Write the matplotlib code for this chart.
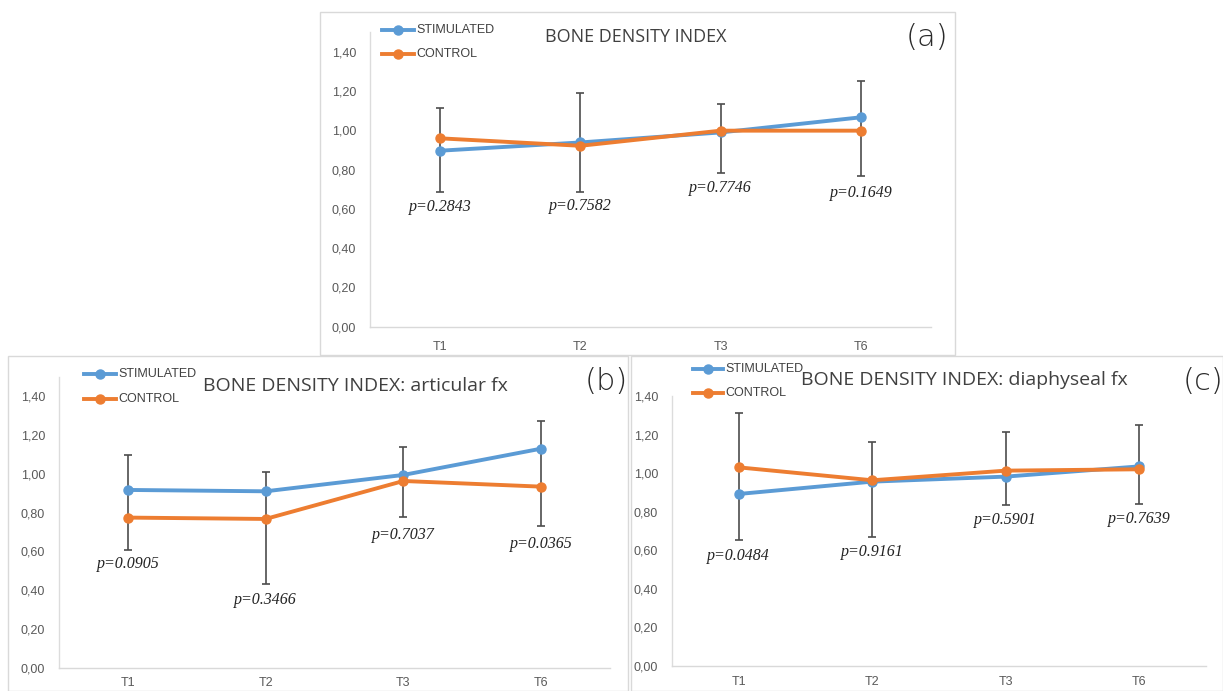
import matplotlib
matplotlib.use("Agg")
import matplotlib.pyplot as plt
from matplotlib.patches import Rectangle
from matplotlib import font_manager

# ---------------- data ----------------
times = ["T1", "T2", "T3", "T6"]
y_ticks = [0.0, 0.2, 0.4, 0.6, 0.8, 1.0, 1.2, 1.4]

a_stim = [0.896, 0.938, 0.989, 1.066]
a_ctrl = [0.959, 0.921, 0.998, 0.998]
a_err_lo = [0.684, 0.684, 0.782, 0.767]
a_err_hi = [1.115, 1.188, 1.132, 1.251]
a_p = ["p=0.2843", "p=0.7582", "p=0.7746", "p=0.1649"]
a_p_y = [0.611, 0.614, 0.704, 0.679]

b_stim = [0.916, 0.909, 0.993, 1.128]
b_ctrl = [0.774, 0.767, 0.962, 0.933]
b_err_lo = [0.608, 0.431, 0.777, 0.731]
b_err_hi = [1.095, 1.008, 1.135, 1.272]
b_p = ["p=0.0905", "p=0.3466", "p=0.7037", "p=0.0365"]
b_p_y = [0.534, 0.351, 0.686, 0.637]

c_stim = [0.892, 0.956, 0.982, 1.035]
c_ctrl = [1.030, 0.963, 1.013, 1.020]
c_err_lo = [0.653, 0.667, 0.835, 0.838]
c_err_hi = [1.310, 1.160, 1.215, 1.248]
c_p = ["p=0.0484", "p=0.9161", "p=0.5901", "p=0.7639"]
c_p_y = [0.572, 0.589, 0.757, 0.762]

titles = ["BONE DENSITY INDEX", "BONE DENSITY INDEX: articular fx",
          "BONE DENSITY INDEX: diaphyseal fx"]
letters = ["(a)", "(b)", "(c)"]
legend_labels = ["STIMULATED", "CONTROL"]

# ---------------- style ----------------
BLUE = "#5b9bd5"
ORANGE = "#ed7d31"
GRAY = "#595959"
DARK = "#404040"
ERR = "#4d4d4d"
FRAME = "#d9d9d9"

avail = {f.name for f in font_manager.fontManager.ttflist}
narrow = "Liberation Sans Narrow" if "Liberation Sans Narrow" in avail else "Liberation Sans"
title_font = "Open Sans" if "Open Sans" in avail else "DejaVu Sans"

W, H = 1223, 691
fig = plt.figure(figsize=(W / 100, H / 100), dpi=100)
fig.patch.set_facecolor("white")


def px(x0, y0, x1, y1):
    """pixel box (left, top, right, bottom) -> figure fraction rect"""
    return [x0 / W, 1 - y1 / H, (x1 - x0) / W, (y1 - y0) / H]


# panel frames
for (x0, y0, x1, y1) in [(320, 12, 955, 355), (8, 356, 628, 691), (631, 356, 1223, 691)]:
    fig.patches.append(Rectangle((x0 / W, 1 - y1 / H), (x1 - x0) / W, (y1 - y0) / H,
                                 transform=fig.transFigure, fill=False,
                                 edgecolor=FRAME, linewidth=1.0))

panels = [
    dict(box=(370, 51.7, 931, 326.7), stim=a_stim, ctrl=a_ctrl, lo=a_err_lo, hi=a_err_hi,
         p=a_p, py=a_p_y, title=titles[0], title_xy=(636, 37), title_fs=13,
         letter=letters[0], letter_xy=(927, 37), spine_top=1.07, xpad=10,
         leg=(382, 414, 30, 54)),
    dict(box=(59, 395.7, 610, 668.3), stim=b_stim, ctrl=b_ctrl, lo=b_err_lo, hi=b_err_hi,
         p=b_p, py=b_p_y, title=titles[1], title_xy=(355, 386), title_fs=14,
         letter=letters[1], letter_xy=(606, 381), spine_top=1.07, xpad=6,
         leg=(84, 116, 374, 399)),
    dict(box=(672, 396, 1206, 666), stim=c_stim, ctrl=c_ctrl, lo=c_err_lo, hi=c_err_hi,
         p=c_p, py=c_p_y, title=titles[2], title_xy=(964, 380), title_fs=14,
         letter=letters[2], letter_xy=(1203, 381), spine_top=1.0, xpad=7,
         leg=(693, 723, 369, 393)),
]

for P in panels:
    x0, y0, x1, y1 = P["box"]
    ax = fig.add_axes(px(x0, y0, x1, y1))
    ax.set_facecolor("none")
    xs = list(range(len(times)))
    mids = [(l + h) / 2 for l, h in zip(P["lo"], P["hi"])]
    half = [(h - l) / 2 for l, h in zip(P["lo"], P["hi"])]
    ax.errorbar(xs, mids, yerr=half, fmt="none", ecolor=ERR, elinewidth=1.2,
                capsize=3, capthick=1.2, zorder=2)
    ax.plot(xs, P["stim"], color=BLUE, lw=2.8, marker="o", ms=6.5, zorder=3)
    ax.plot(xs, P["ctrl"], color=ORANGE, lw=2.8, marker="o", ms=6.5, zorder=4)
    for xi, txt, yv in zip(xs, P["p"], P["py"]):
        ax.text(xi, yv, txt, ha="center", va="center", fontsize=11.5,
                family="Liberation Serif", style="italic", color="#222222", zorder=5)
    ax.set_xlim(-0.5, len(times) - 0.5)
    ax.set_ylim(0, 1.4)
    ax.set_xticks(xs)
    ax.set_xticklabels(times)
    ax.set_yticks(y_ticks)
    ax.set_yticklabels([f"{v:.2f}".replace(".", ",") for v in y_ticks])
    ax.tick_params(length=0, colors=GRAY, labelsize=9)
    ax.tick_params(axis="y", pad=10)
    ax.tick_params(axis="x", pad=P["xpad"])
    for lab in ax.get_xticklabels() + ax.get_yticklabels():
        lab.set_family("Liberation Sans")
    for s in ["top", "right", "left"]:
        ax.spines[s].set_visible(False)
    ax.spines["bottom"].set_color(FRAME)
    ax.spines["bottom"].set_linewidth(1.0)
    ax.plot([0, 0], [0, P["spine_top"]], transform=ax.transAxes, color="#dcdcdc",
            lw=1.0, clip_on=False, zorder=1)

    tx, ty = P["title_xy"]
    fig.text(tx / W, 1 - ty / H, P["title"], ha="center", va="center",
             fontsize=P["title_fs"], color=DARK, family=title_font)
    lx, ly = P["letter_xy"]
    fig.text(lx / W, 1 - ly / H, P["letter"], ha="center", va="center",
             fontsize=22, color="#2a2a2a", family="DejaVu Sans", fontweight="light")

    lx0, lx1, ly_s, ly_c = P["leg"]
    for yy, col, lab in [(ly_s, BLUE, legend_labels[0]), (ly_c, ORANGE, legend_labels[1])]:
        fig.add_artist(plt.Line2D([lx0 / W, lx1 / W], [1 - yy / H, 1 - yy / H],
                                  color=col, lw=2.8, transform=fig.transFigure))
        fig.add_artist(plt.Line2D([(lx0 + lx1) / 2 / W], [1 - yy / H], color=col,
                                  marker="o", ms=6.5, transform=fig.transFigure))
        fig.text((lx1 + 2) / W, 1 - yy / H, lab, ha="left", va="center",
                 fontsize=9, color=DARK, family=narrow)

fig.savefig("out.png", dpi=100, facecolor="white")
